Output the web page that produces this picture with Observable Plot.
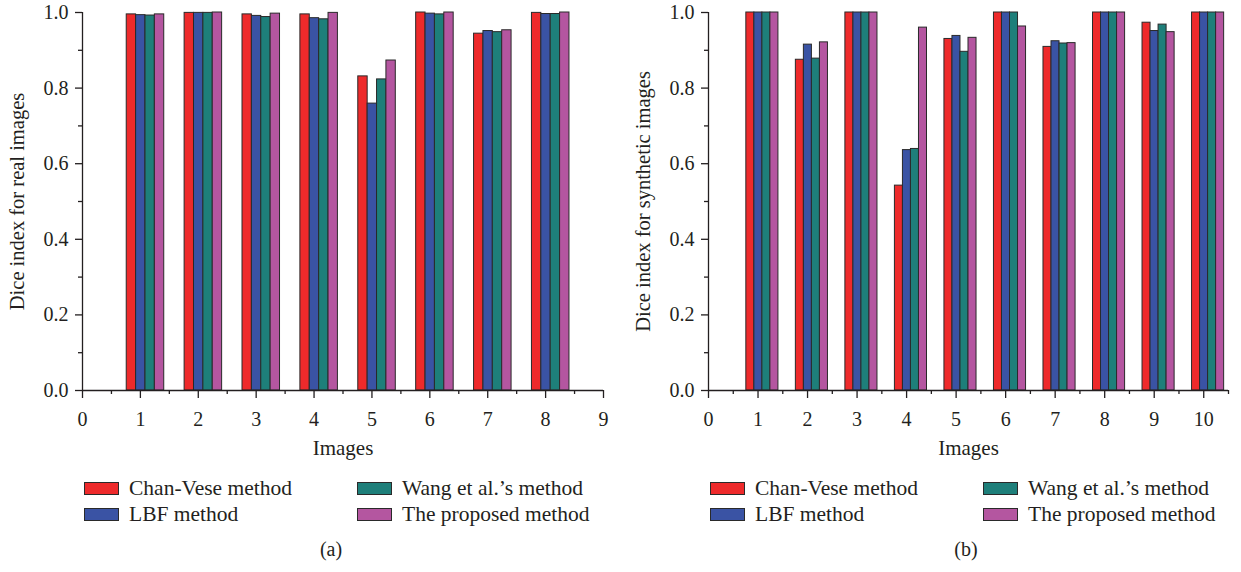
<!DOCTYPE html>
<html><head><meta charset="utf-8">
<script src="https://cdn.jsdelivr.net/npm/d3@7"></script>
<script src="https://cdn.jsdelivr.net/npm/@observablehq/plot@0.6"></script>
<style>
body{margin:0;background:#fff;font-family:"Liberation Serif",serif;}
#root{position:relative;width:1241px;height:572px;overflow:hidden;}
.panel{position:absolute;top:0;}
.leg{position:absolute;font-size:21.5px;color:#231f20;white-space:nowrap;line-height:22px;}
.sw{display:inline-block;width:33px;height:11px;border:1.5px solid #2a2a2a;vertical-align:middle;margin-right:10px;position:relative;top:-2px;}
.cap{position:absolute;font-size:20px;color:#231f20;transform:translateX(-50%);white-space:nowrap;}
</style></head><body><div id="root"></div>
<script>
const methods = ["Chan-Vese method", "LBF method", "Wang et al.’s method", "The proposed method"];
const colors = ["#ee2a2b", "#3a53a4", "#1e7f7a", "#b456a0"];

const imagesA = [1, 2, 3, 4, 5, 6, 7, 8];
const chanVeseA = [0.995, 0.999, 0.995, 0.995, 0.831, 1.000, 0.944, 0.999];
const lbfA      = [0.993, 0.999, 0.991, 0.985, 0.759, 0.997, 0.951, 0.996];
const wangA     = [0.992, 0.999, 0.988, 0.982, 0.823, 0.995, 0.948, 0.996];
const proposedA = [0.995, 1.000, 0.997, 0.999, 0.873, 1.000, 0.953, 1.000];

const imagesB = [1, 2, 3, 4, 5, 6, 7, 8, 9, 10];
const chanVeseB = [1.000, 0.875, 1.000, 0.542, 0.930, 1.000, 0.909, 1.000, 0.973, 1.000];
const lbfB      = [1.000, 0.915, 1.000, 0.636, 0.938, 1.000, 0.924, 1.000, 0.951, 1.000];
const wangB     = [1.000, 0.878, 1.000, 0.639, 0.896, 1.000, 0.918, 1.000, 0.968, 1.000];
const proposedB = [1.000, 0.921, 1.000, 0.960, 0.933, 0.963, 0.919, 1.000, 0.948, 1.000];

const yTicks = [0, 0.2, 0.4, 0.6, 0.8, 1.0];
const yMinor = [0.1, 0.3, 0.5, 0.7, 0.9];
const xTicksA = [0, 1, 2, 3, 4, 5, 6, 7, 8, 9];
const xMinorA = [0.5, 1.5, 2.5, 3.5, 4.5, 5.5, 6.5, 7.5, 8.5];
const xTicksB = [0, 1, 2, 3, 4, 5, 6, 7, 8, 9, 10];
const xMinorB = [0.5, 1.5, 2.5, 3.5, 4.5, 5.5, 6.5, 7.5, 8.5, 9.5, 10.5];

const ink = "#231f20";
const bw = 0.162, off0 = -0.155;

function chart({images, series, xMax, xTicks, xMinor, ylabel, width, marginLeft, marginRight}) {
  const rows = [];
  images.forEach((img, i) => series.forEach((s, k) => rows.push({image: img, k, method: methods[k], value: s[i]})));
  return Plot.plot({
    width, height: 472, marginLeft, marginRight, marginTop: 12, marginBottom: 82,
    x: {domain: [0, xMax], label: null},
    y: {domain: [0, 1], label: null},
    color: {domain: methods, range: colors},
    style: {fontFamily: "'Liberation Serif', serif", fontSize: "20px", color: ink, background: "#fff", overflow: "visible"},
    marks: [
      Plot.rectY(rows, {
        x1: d => d.image + off0 + bw * d.k - bw / 2,
        x2: d => d.image + off0 + bw * d.k + bw / 2,
        y1: 0, y2: "value", fill: "method", stroke: "#2a2a2a", strokeWidth: 1
      }),
      Plot.axisX({ticks: xTicks, tickSize: 8, tickPadding: 13, tickFormat: d3.format("d"), label: null, strokeWidth: 1.3}),
      Plot.axisX({ticks: xMinor, tickSize: 4, tickFormat: () => "", label: null, strokeWidth: 1.3}),
      Plot.axisY({ticks: yTicks, tickSize: 7, tickPadding: 7, tickFormat: d3.format(".1f"), label: null, strokeWidth: 1.3}),
      Plot.axisY({ticks: yMinor, tickSize: 4, tickFormat: () => "", label: null, strokeWidth: 1.3}),
      Plot.ruleY([0], {x1: 0, x2: xMax, stroke: ink, strokeWidth: 1.3}),
      Plot.ruleX([0], {y1: 0, y2: 1, stroke: ink, strokeWidth: 1.3}),
      Plot.text([ylabel], {frameAnchor: "left", dx: -65, rotate: -90, textAnchor: "middle", fontSize: 20.5, fill: ink}),
      Plot.text(["Images"], {frameAnchor: "bottom", dy: 64, fontSize: 21, fill: ink})
    ]
  });
}

const root = document.getElementById("root");

function panel(left, width, marginLeft, opts, caption, capX) {
  const div = document.createElement("div");
  div.className = "panel";
  div.style.left = left + "px";
  div.style.width = width + "px";
  div.style.height = "572px";
  div.appendChild(chart({...opts, width, marginLeft}));
  const pos = [[marginLeft + 2, 477], [marginLeft + 2, 503], [marginLeft + 275, 477], [marginLeft + 275, 503]];
  [0, 1, 2, 3].forEach((k, j) => {
    const l = document.createElement("div");
    l.className = "leg";
    l.style.left = pos[j][0] + "px";
    l.style.top = pos[j][1] + "px";
    const sw = document.createElement("span");
    sw.className = "sw";
    sw.style.background = colors[k];
    l.appendChild(sw);
    l.appendChild(document.createTextNode(methods[k]));
    div.appendChild(l);
  });
  const c = document.createElement("div");
  c.className = "cap";
  c.style.left = capX + "px";
  c.style.top = "538px";
  c.textContent = caption;
  div.appendChild(c);
  root.appendChild(div);
}

panel(0, 620, 82, {images: imagesA, series: [chanVeseA, lbfA, wangA, proposedA], xMax: 9, xTicks: xTicksA, xMinor: xMinorA,
  ylabel: "Dice index for real images", marginRight: 17}, "(a)", 331);
panel(620, 621, 88, {images: imagesB, series: [chanVeseB, lbfB, wangB, proposedB], xMax: 10.5, xTicks: xTicksB, xMinor: xMinorB,
  ylabel: "Dice index for synthetic images", marginRight: 13}, "(b)", 346);
</script></body></html>
